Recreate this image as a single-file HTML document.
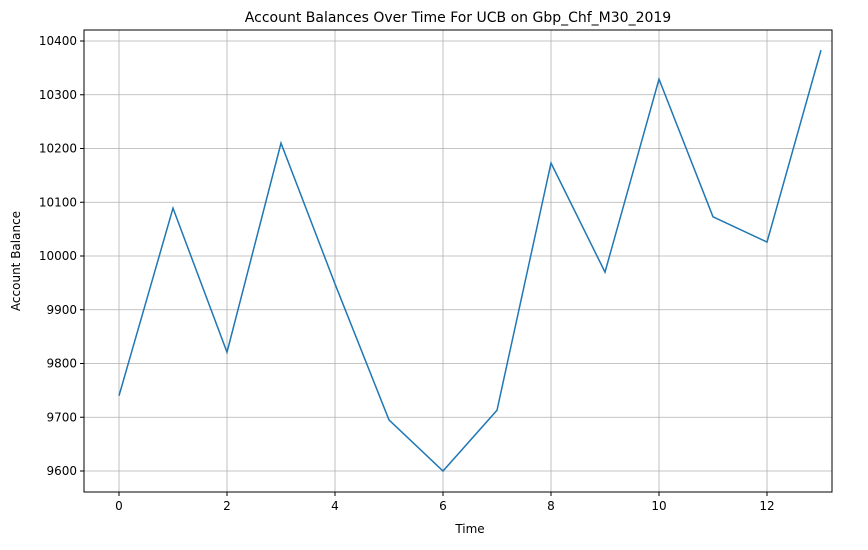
<!DOCTYPE html>
<html><head><meta charset="utf-8"><style>
body{margin:0;background:#fff;font-family:"Liberation Sans","DejaVu Sans",sans-serif;}
svg text{font-family:"DejaVu Sans","Liberation Sans",sans-serif;}
</style></head><body>
<svg id="c" width="868" height="545">
<text x="458" y="22" font-size="14" text-anchor="middle">Account Balances Over Time For UCB on Gbp_Chf_M30_2019</text>
<g id="grid"></g><g id="ticks"></g>
<text x="470" y="533" font-size="12" text-anchor="middle">Time</text>
<text transform="translate(20,261) rotate(-90)" font-size="12" text-anchor="middle">Account Balance</text>
<rect x="84" y="30" width="748" height="462" fill="none" stroke="#000" stroke-width="1"/>
</svg>
<script>
const times=[0,1,2,3,4,5,6,7,8,9,10,11,12,13];
const balances=[9740,10089,9821,10210,9948,9695,9600,9713,10173,9970,10329,10073,10026,10383];
const xTicks=[0,2,4,6,8,10,12];
const yTicks=[9600,9700,9800,9900,10000,10100,10200,10300,10400];
const ns="http://www.w3.org/2000/svg";
const sx=v=>119+v*54;
const sy=v=>471-(v-9600)*0.5375;
const svg=document.getElementById('c'),grid=document.getElementById('grid'),tk=document.getElementById('ticks');
function mk(t,a,p){const e=document.createElementNS(ns,t);for(const k in a)e.setAttribute(k,a[k]);p.appendChild(e);return e;}
xTicks.forEach(v=>{
 const g=mk('line',{x1:sx(v),x2:sx(v),y1:30,y2:492,stroke:'#b0b0b0','stroke-width':0.8},grid);
 
 
 mk('line',{x1:sx(v),x2:sx(v),y1:492,y2:496,stroke:'#000'},tk);
 const t=mk('text',{x:sx(v),y:510,'font-size':12,'text-anchor':'middle'},tk);t.textContent=v;
 
 
});
yTicks.forEach(v=>{
 const g=mk('line',{x1:84,x2:832,y1:sy(v),y2:sy(v),stroke:'#b0b0b0','stroke-width':0.8},grid);
 
 
 mk('line',{x1:80,x2:84,y1:sy(v),y2:sy(v),stroke:'#000'},tk);
 const t=mk('text',{x:77,y:sy(v)+4,'font-size':12,'text-anchor':'end'},tk);t.textContent=v;
 
 
});
const pl=mk('polyline',{points:times.map((t,i)=>sx(t)+','+sy(balances[i])).join(' '),fill:'none',stroke:'#1f77b4','stroke-width':1.5},svg);


</script>
</body></html>
